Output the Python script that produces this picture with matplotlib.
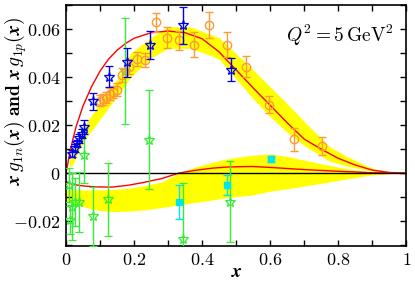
import matplotlib
matplotlib.use("Agg")
import matplotlib.pyplot as plt
import numpy as np
from matplotlib.ticker import MultipleLocator, FuncFormatter

plt.rcParams['mathtext.fontset'] = 'cm'

# ---- theory curves (proton) ----
xp_curve = [0.0, 0.01, 0.02, 0.03, 0.05, 0.075, 0.1, 0.125, 0.15, 0.175, 0.2, 0.25, 0.3,
            0.35, 0.4, 0.45, 0.5, 0.55, 0.6, 0.65, 0.7, 0.75, 0.8, 0.85, 0.9, 0.95, 1.0]
yp_curve = [0.0, 0.0075, 0.0140, 0.0195, 0.0280, 0.0360, 0.0425, 0.0475, 0.0512, 0.0540,
            0.0562, 0.0585, 0.0592, 0.0585, 0.0560, 0.0505, 0.0430, 0.0355, 0.0283, 0.0210,
            0.0142, 0.0100, 0.0062, 0.0034, 0.0013, 0.0003, 0.0]
xp_band = [0.01, 0.02, 0.04, 0.06, 0.08, 0.1, 0.15, 0.19, 0.25, 0.3, 0.365, 0.425, 0.45,
           0.55, 0.6, 0.65, 0.7, 0.775, 0.825, 0.9, 0.95, 1.0]
yp_lo = [0.0025, 0.0035, 0.0100, 0.0150, 0.0185, 0.0225, 0.0320, 0.0400, 0.0480, 0.0520,
         0.0520, 0.0490, 0.0475, 0.0310, 0.0235, 0.0170, 0.0115, 0.0050, 0.0030, 0.0008, 0.0002, 0.0]
yp_hi = [0.0050, 0.0080, 0.0150, 0.0210, 0.0250, 0.0300, 0.0390, 0.0500, 0.0565, 0.0610,
         0.0610, 0.0578, 0.0564, 0.0430, 0.0360, 0.0290, 0.0215, 0.0110, 0.0070, 0.0020, 0.0005, 0.0]

# ---- theory curves (neutron) ----
xn_curve = [0.0, 0.018, 0.05, 0.086, 0.135, 0.184, 0.23, 0.282, 0.331, 0.38, 0.43, 0.478,
            0.547, 0.6, 0.7, 0.8, 0.9, 1.0]
yn_curve = [-0.0035, -0.0046, -0.0053, -0.0057, -0.0058, -0.0050, -0.0038, -0.0022, 0.0,
            0.0012, 0.0021, 0.0026, 0.0028, 0.0024, 0.0015, 0.0008, 0.0002, 0.0]
xn_band = [0.0, 0.018, 0.086, 0.135, 0.184, 0.23, 0.282, 0.331, 0.38, 0.43, 0.478, 0.547,
           0.6, 0.65, 0.747, 0.82, 0.894, 0.95, 1.0]
yn_lo = [-0.0120, -0.0126, -0.0153, -0.0160, -0.0158, -0.0153, -0.0143, -0.0132, -0.0122,
         -0.0112, -0.0100, -0.0091, -0.0075, -0.0065, -0.0043, -0.0025, -0.0008, -0.0002, 0.0]
yn_hi = [-0.0070, -0.0070, -0.0070, -0.0068, -0.0063, -0.0052, -0.0036, 0.0, 0.0026, 0.0045,
         0.0061, 0.0075, 0.0080, 0.0070, 0.0040, 0.0020, 0.0005, 0.0001, 0.0]

# ---- proton data (orange circles) ----
x_orange = [0.101, 0.110, 0.117, 0.129, 0.139, 0.150, 0.166, 0.185, 0.208, 0.232, 0.264,
            0.296, 0.333, 0.375, 0.420, 0.473, 0.529, 0.597, 0.670, 0.752]
y_orange = [0.0302, 0.0307, 0.0315, 0.0330, 0.0340, 0.0347, 0.0410, 0.0444, 0.0475, 0.0472,
            0.0628, 0.0565, 0.0554, 0.0535, 0.0617, 0.0534, 0.0444, 0.0286, 0.0142, 0.0113]
e_orange = [0.0022, 0.0022, 0.0022, 0.0025, 0.0025, 0.0027, 0.0030, 0.0030, 0.0030, 0.0030,
            0.0040, 0.0045, 0.0040, 0.0052, 0.0055, 0.0052, 0.0042, 0.0037, 0.0048, 0.0038]

# ---- proton data (blue stars) ----
x_blue = [0.018, 0.026, 0.032, 0.038, 0.046, 0.053, 0.078, 0.127, 0.178, 0.247, 0.345, 0.484]
y_blue = [0.0082, 0.0105, 0.0125, 0.0145, 0.0165, 0.0192, 0.0299, 0.0402, 0.0461, 0.0533,
          0.0616, 0.0431]
e_blue = [0.0015, 0.0015, 0.0015, 0.0018, 0.0020, 0.0030, 0.0036, 0.0043, 0.0062, 0.0059,
          0.0078, 0.0048]

# ---- neutron data (green stars) ----
x_green = [0.008, 0.013, 0.018, 0.027, 0.037, 0.052, 0.079, 0.124, 0.174, 0.245, 0.343, 0.483]
y_green = [-0.0050, -0.0195, -0.0140, -0.0119, -0.0119, 0.0075, -0.0180, -0.0109, 0.0425,
           0.0140, -0.0275, -0.0119]
e_green = [0.0070, 0.0060, 0.0140, 0.0100, 0.0126, 0.0115, 0.0123, 0.0153, 0.0222, 0.0205,
           0.0234, 0.0168]

# ---- neutron data (cyan squares) ----
x_cyan = [0.331, 0.474, 0.602]
y_cyan = [-0.0121, -0.0050, 0.0058]
e_cyan = [0.0071, 0.0041, 0.0013]

fig = plt.figure(figsize=(4.15, 2.84), dpi=100)
ax = fig.add_axes([0.159, 0.134, 0.820, 0.848])

yellow = '#ffff00'
ax.fill_between(xp_band, yp_lo, yp_hi, color=yellow, lw=0, zorder=1)
ax.fill_between(xn_band, yn_lo, yn_hi, color=yellow, lw=0, zorder=1)
ax.plot(xp_curve, yp_curve, color='red', lw=1.0, zorder=2)
ax.plot(xn_curve, yn_curve, color='red', lw=1.0, zorder=2)
ax.axhline(0, color='black', lw=1.0, zorder=2)

ax.errorbar(x_orange, y_orange, yerr=e_orange, fmt='o', ms=6, mfc='none', mec='#ff9a33',
            mew=1.0, ecolor='#ff9a33', elinewidth=1.0, capsize=3, capthick=1.0, zorder=4)
ax.errorbar(x_green, y_green, yerr=e_green, fmt='*', ms=7, mfc='none', mec='#33ee33',
            mew=0.9, ecolor='#33ee33', elinewidth=1.0, capsize=3, capthick=1.0, zorder=3)
ax.errorbar(x_cyan, y_cyan, yerr=e_cyan, fmt='s', ms=5, mfc='#00e5ee', mec='#00e5ee',
            ecolor='#00e5ee', elinewidth=1.0, capsize=3, capthick=1.0, zorder=4)
ax.errorbar(x_blue, y_blue, yerr=e_blue, fmt='*', ms=7, mfc='none', mec='#0000ee',
            mew=0.9, ecolor='#0000ee', elinewidth=1.0, capsize=3, capthick=1.0, zorder=5)

ax.set_xlim(0, 1)
ax.set_ylim(-0.0303, 0.0700)

ax.xaxis.set_major_locator(MultipleLocator(0.2))
ax.xaxis.set_minor_locator(MultipleLocator(0.1))
ax.yaxis.set_major_locator(MultipleLocator(0.02))
ax.yaxis.set_minor_locator(MultipleLocator(0.01))

def xfmt(v, pos):
    if abs(v) < 1e-9:
        return r'$\mathbf{0}$'
    if abs(v - 1) < 1e-9:
        return r'$\mathbf{1}$'
    return r'$\mathbf{%.1f}$' % v

def yfmt(v, pos):
    if abs(v) < 1e-9:
        return r'$\mathbf{0}$'
    return r'$\mathbf{%.2f}$' % v

ax.xaxis.set_major_formatter(FuncFormatter(xfmt))
ax.yaxis.set_major_formatter(FuncFormatter(yfmt))
ax.tick_params(which='both', direction='in', top=True, right=True, length=4, width=1.0,
               labelsize=13, pad=4)
for s in ax.spines.values():
    s.set_linewidth(1.2)

ax.text(0.503, -0.108, r'$\boldsymbol{x}$', fontsize=14, ha='center', va='center',
        transform=ax.transAxes)
ax.set_ylabel(r'$\boldsymbol{x\,g_{1n}(x)}\ \mathbf{and}\ \boldsymbol{x\,g_{1p}(x)}$',
              fontsize=14, va='center')
ax.yaxis.set_label_coords(-0.148, 0.6)
ax.text(0.805, 0.0575, r'$Q^2 = 5\,\mathrm{GeV}^2$', fontsize=14, ha='center', va='center')

fig.savefig('out.png', dpi=100)
